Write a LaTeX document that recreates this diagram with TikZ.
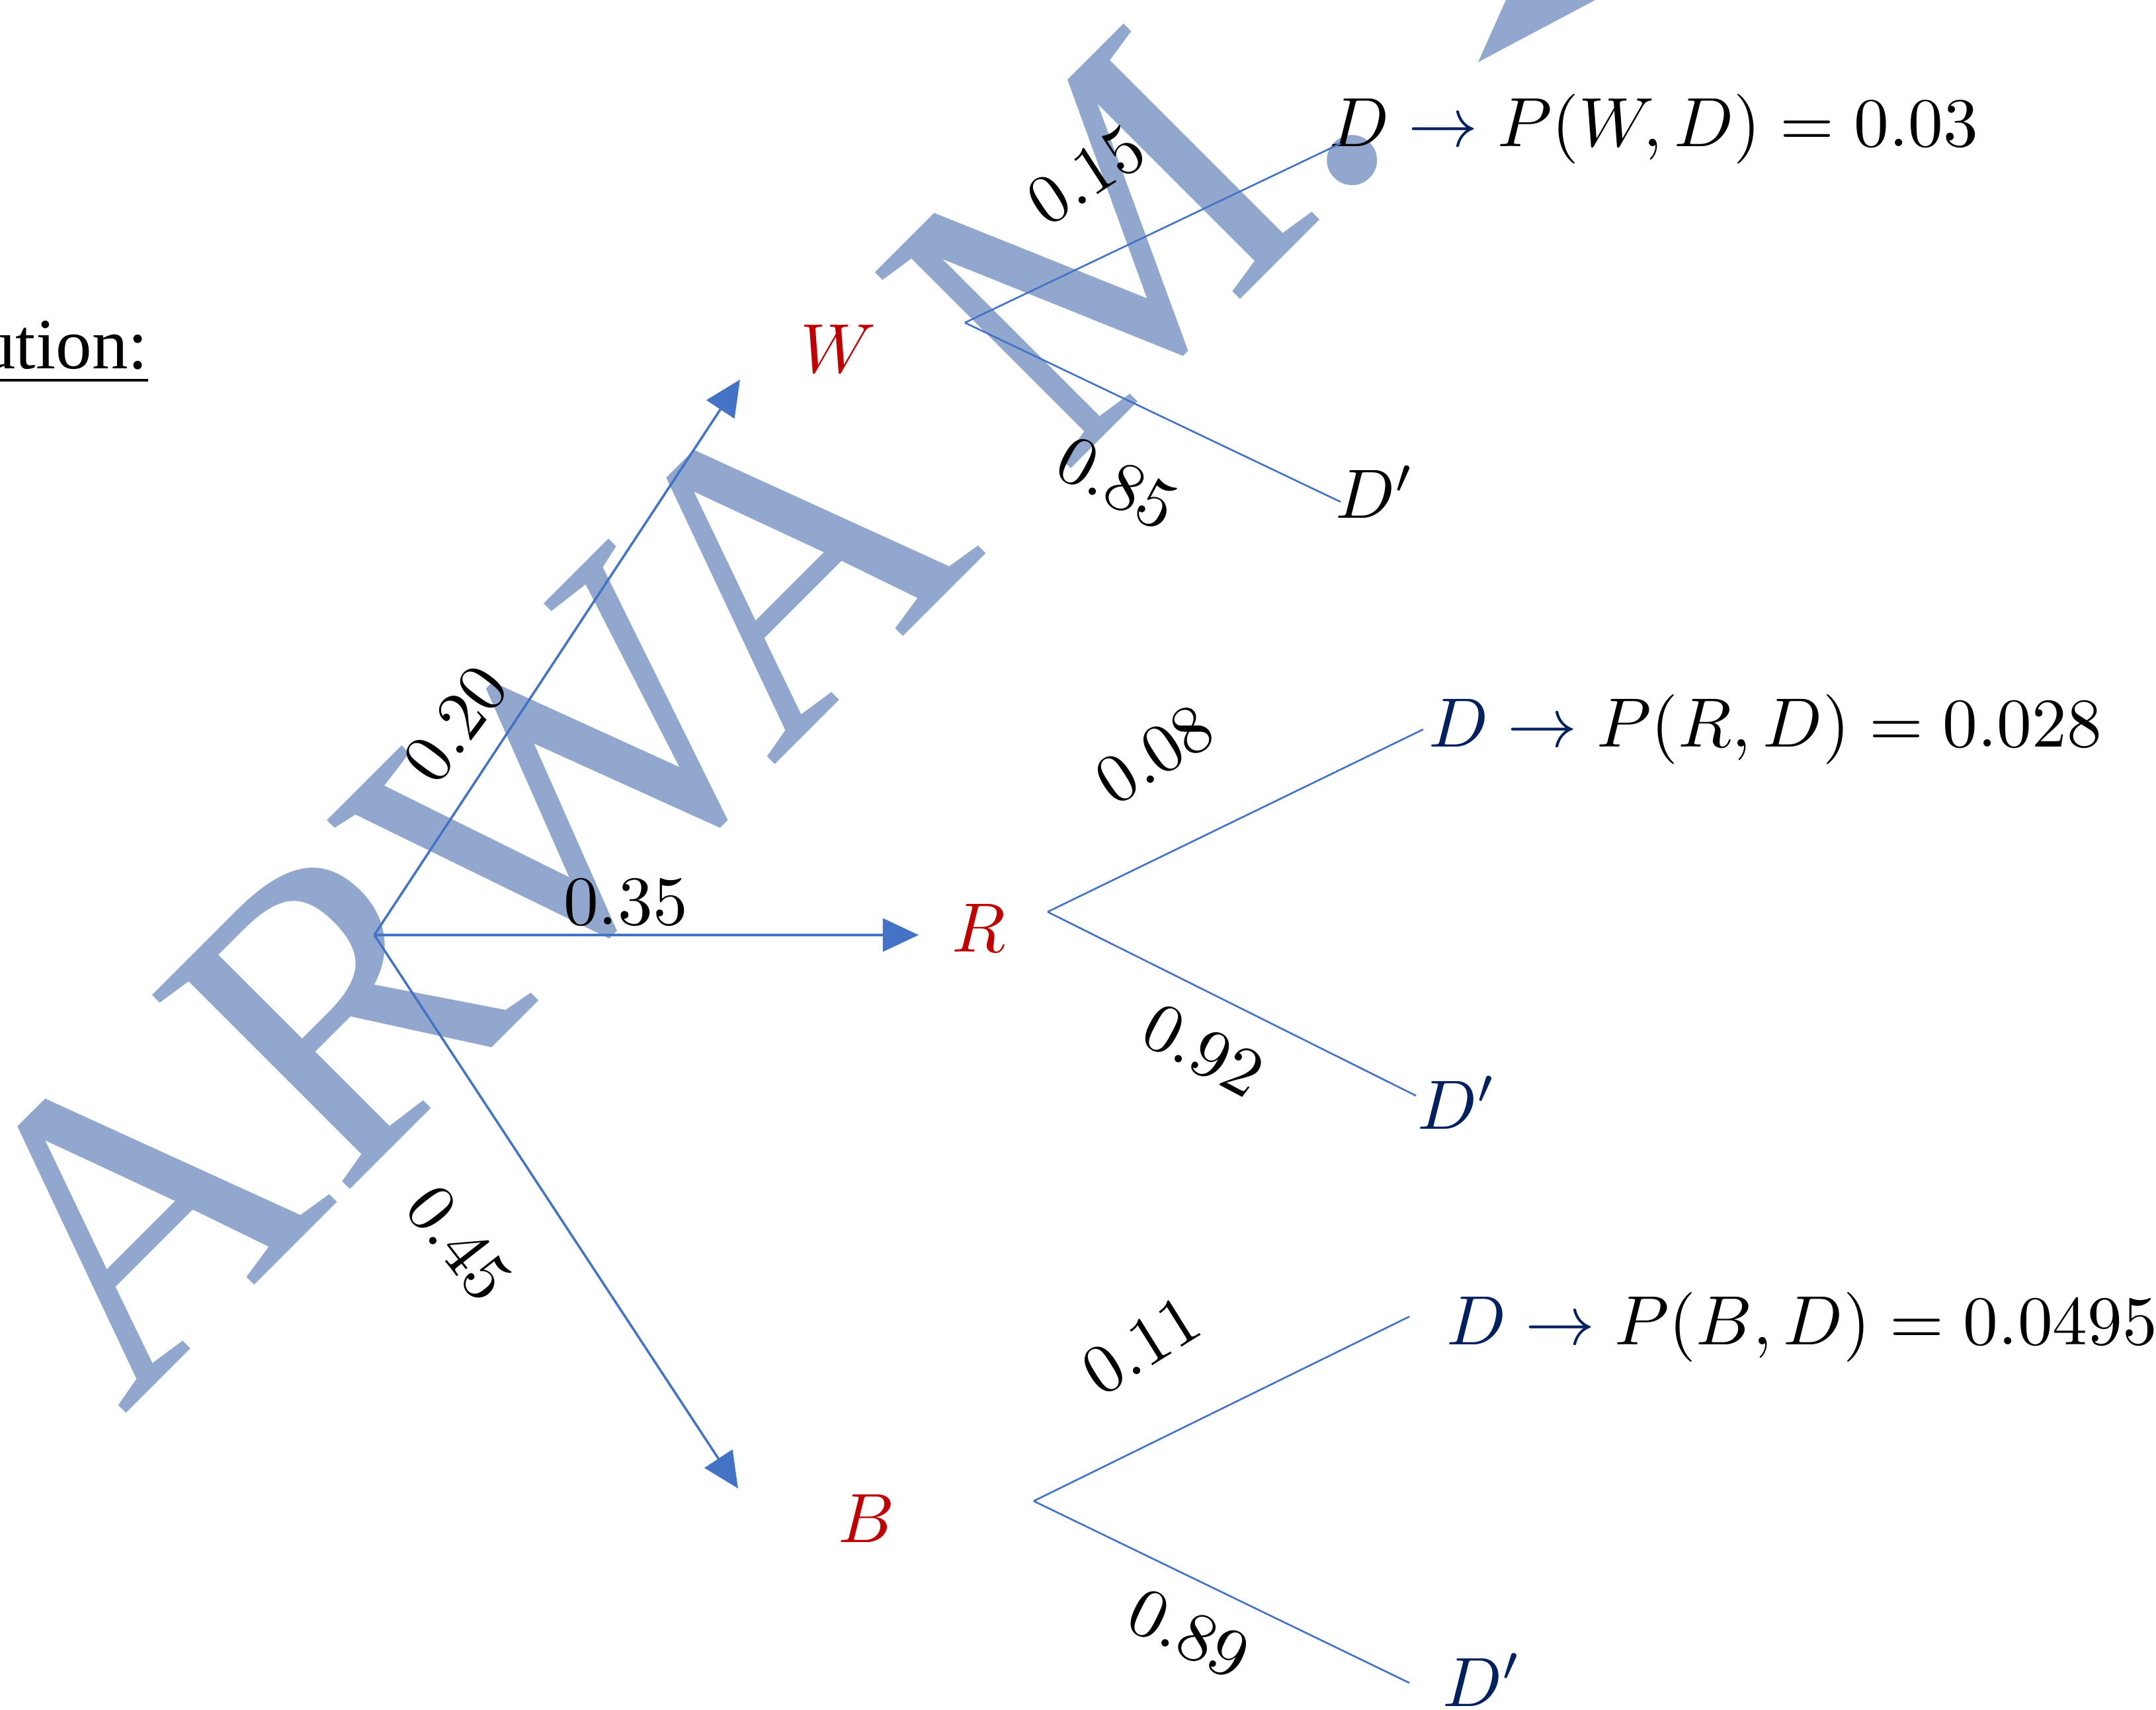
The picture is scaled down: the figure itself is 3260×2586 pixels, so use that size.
\documentclass[tikz,border=0pt]{standalone}
\usepackage{fontspec}
\newfontfamily\tnr{Liberation Serif}
\usetikzlibrary{arrows.meta,calc}
\definecolor{wblue}{RGB}{68,114,196}
\definecolor{navy}{RGB}{0,32,96}
\definecolor{evred}{RGB}{192,0,0}
\definecolor{wmblue}{RGB}{145,167,205}
\tikzset{
  arr/.style={draw=wblue, line width=1pt, -{Triangle[length=5.4mm,width=5mm]}},
  br/.style={draw=wblue, line width=0.75pt},
  lbl/.style={scale=3, inner sep=0pt},
  ev/.style={scale=3, text=evred, inner sep=0pt},
  res/.style={scale=3, inner sep=0pt, anchor=base west},
  wm/.style={font=\tnr\fontsize{182}{182}\selectfont, text=wmblue, inner sep=0pt, anchor=base west},
}
\begin{document}
\begin{tikzpicture}[x=0.01cm, y=-0.01cm]
\useasboundingbox (0,0) rectangle (3260,2586);
\fill[white] (0,0) rectangle (3260,2586);
% watermark
\node[wm, rotate=45] (wmark) at (186,2142) {ARWA M.};
\fill[wmblue] (2235,94) -- (2277,0) -- (2412,0) -- cycle;
% heading fragment
\node[anchor=base east, inner sep=0pt, scale=3.1, font=\tnr] (sol) at (226,558) {\underline{ution:}};
% root and arrow tips
\coordinate (root) at (566,1414);
\coordinate (tw) at (1119,574);
\coordinate (tr) at (1389,1414);
\coordinate (tb) at (1116,2251);
% branch vertices
\coordinate (vw) at (1459,488);
\coordinate (vr) at (1584,1379);
\coordinate (vb) at (1563,2270);
% event labels
\node[ev] (W) at (1268,527) {$W$};
\node[ev] (R) at (1480,1403) {$R$};
\node[ev] (B) at (1310,2296) {$B$};
% results
\node[res] (dw) at (2008,222) {$D \mathrel{\color{navy}\rightarrow} P(W,D)=0.03$};
\node[res] (dpw) at (2017,784) {$D'$};
\node[res] (dr) at (2158,1130) {${\color{navy}D} \mathrel{\color{navy}\rightarrow} P(R,D)=0.028$};
\node[res] (dpr) at (2141,1707) {${\color{navy}D'}$};
\node[res] (db) at (2185,2033) {${\color{navy}D} \mathrel{\color{navy}\rightarrow} P(B,D)=0.0495$};
\node[res] (dpb) at (2179,2580) {${\color{navy}D'}$};
% probabilities
\node[lbl, rotate=33] (p15) at (1643,265) {$0.15$};
\node[lbl, rotate=-28] (p85) at (1689,731) {$0.85$};
\node[lbl, rotate=53] (p20) at (689,1095) {$0.20$};
\node[lbl] (p35) at (946,1365) {$0.35$};
\node[lbl, rotate=-52] (p45) at (694,1880) {$0.45$};
\node[lbl, rotate=33] (p08) at (1746,1141) {$0.08$};
\node[lbl, rotate=-28] (p92) at (1819,1589) {$0.92$};
\node[lbl, rotate=32] (p11) at (1726,2035) {$0.11$};
\node[lbl, rotate=-26] (p89) at (1798,2471) {$0.89$};
% main arrows
\draw[arr] (root) -- (tw);
\draw[arr] (root) -- (tr);
\draw[arr] (root) -- (tb);
% branches
\draw[br] (vw) -- ($(dw.base west)+(19,-5)$);
\draw[br] (vw) -- ($(dpw.base west)+(10,-25)$);
\draw[br] (vr) -- ($(dr.base west)+(-6,-27)$);
\draw[br] (vr) -- ($(dpr.base west)+(0,-50)$);
\draw[br] (vb) -- ($(db.base west)+(-54,-42)$);
\draw[br] (vb) -- ($(dpb.base west)+(-48,-35)$);
\end{tikzpicture}
\end{document}
